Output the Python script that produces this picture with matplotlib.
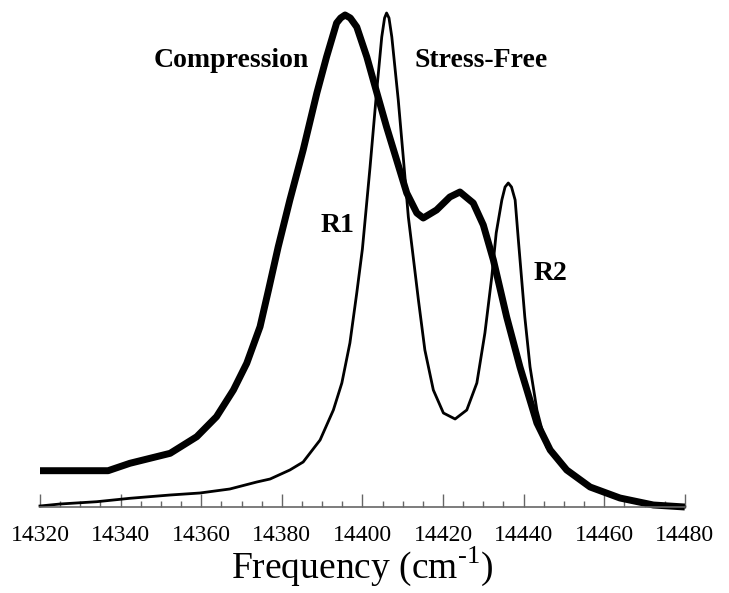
import matplotlib
matplotlib.use("Agg")
import matplotlib.pyplot as plt
from matplotlib.ticker import MultipleLocator

plt.rcParams['font.family'] = ['Liberation Serif', 'DejaVu Serif']
plt.rcParams['mathtext.fontset'] = 'custom'
plt.rcParams['mathtext.rm'] = 'Liberation Serif'

# compression spectrum (thick line), frequency in cm-1 / intensity arb. units
comp_freq = [14320, 14325, 14330, 14336.9, 14342.3, 14352.3, 14358.9, 14363.8,
             14368.0, 14371.3, 14374.6, 14376.7, 14379.1, 14382.0, 14385.3,
             14388.7, 14391.1, 14393.6, 14394.6, 14395.7, 14397.0, 14398.6,
             14401.1, 14403.6, 14406.0, 14408.5, 14411.0, 14413.5, 14415.1,
             14418.4, 14421.7, 14424.2, 14427.5, 14430.0, 14432.5, 14435.8,
             14439.1, 14443.3, 14446.6, 14450.7, 14456.5, 14463.9, 14472.2, 14480]
comp_int = [36.3, 36.3, 36.3, 36.3, 43.7, 53.7, 70.3, 90.3,
            117, 143.7, 180.3, 217, 260, 307, 357,
            414, 450, 484, 489, 492, 489, 480,
            450, 414, 380, 347, 314, 294, 289,
            297, 310, 315, 304, 282, 247, 190,
            140, 84, 57, 37, 20, 9, 2, 0]

# stress-free spectrum (thin line)
free_freq = [14320, 14325, 14334.1, 14342.3, 14352.3, 14359.7, 14367.1, 14373.8,
             14377.1, 14382.0, 14385.3, 14389.5, 14392.8, 14394.9, 14396.9,
             14398.6, 14400.0, 14401.9, 14403.5, 14404.8, 14405.5, 14406.0,
             14406.6, 14407.3, 14408.9, 14410.2, 14411.4, 14412.4, 14413.9,
             14415.5, 14417.6, 14420.1, 14423.0, 14425.9, 14428.4, 14430.4,
             14432.1, 14433.2, 14434.6, 14435.4, 14436.2, 14437.0, 14437.9,
             14438.7, 14440.3, 14441.6, 14443.3, 14445.7, 14450.7, 14456.5,
             14463.9, 14472.2, 14480]
free_int = [1, 3, 5.3, 8.7, 12, 14, 18, 25,
            28, 37, 45, 67, 97, 124, 164,
            214, 258, 340, 414, 470, 489, 494,
            489, 470, 407, 347, 290, 257, 207,
            157, 117, 94, 88, 97, 124, 174,
            230, 274, 307, 320, 324, 320, 307,
            267, 190, 140, 97, 60, 38, 21,
            9, 2, 0]

fig = plt.figure(figsize=(7.29, 5.93), dpi=100)
ax = fig.add_axes([40/729, 86/593, 644.8/729, 500/593])

ax.plot(free_freq, free_int, color='black', lw=2.0, solid_joinstyle='round', clip_on=False)
ax.plot(comp_freq, comp_int, color='black', lw=5.0, solid_joinstyle='round',
        solid_capstyle='butt', clip_on=False)

ax.set_xlim(14320, 14480)
ax.set_ylim(0, 500)

for s in ['top', 'left', 'right']:
    ax.spines[s].set_visible(False)
ax.spines['bottom'].set_color('#666666')
ax.spines['bottom'].set_linewidth(1.2)
ax.set_yticks([])

ax.xaxis.set_major_locator(MultipleLocator(20))
ax.xaxis.set_minor_locator(MultipleLocator(5))
ax.tick_params(axis='x', which='major', direction='in', length=9.5, width=1.0,
               color='#666666', labelsize=17, pad=13)
ax.tick_params(axis='x', which='minor', direction='in', length=4.5, width=1.0,
               color='#666666')
ax.set_xlabel('Frequency (cm$^{\\text{-1}}$)', fontsize=27, labelpad=-1)

ax.text(14348.3, 440, 'Compression', fontsize=20, fontweight='bold')
ax.text(14413.0, 440, 'Stress-Free', fontsize=20, fontweight='bold')
ax.text(14389.5, 275, 'R1', fontsize=20, fontweight='bold')
ax.text(14442.4, 227, 'R2', fontsize=20, fontweight='bold')

fig.savefig('out.png', dpi=100)
